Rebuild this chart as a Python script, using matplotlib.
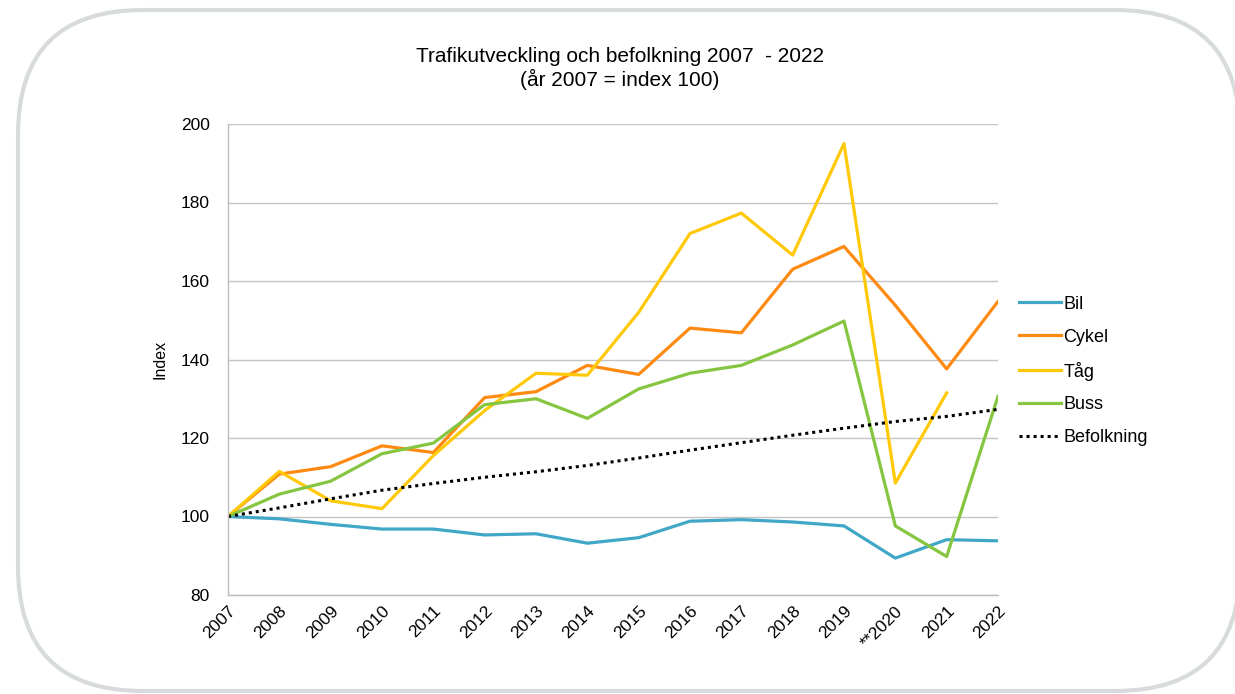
import numpy as np
import matplotlib.pyplot as plt
from matplotlib.patches import FancyBboxPatch

plt.rcParams['font.family'] = ['Liberation Sans', 'DejaVu Sans']

years = ['2007', '2008', '2009', '2010', '2011', '2012', '2013', '2014',
         '2015', '2016', '2017', '2018', '2019', '**2020', '2021', '2022']

bil = [100, 99.4, 98.0, 96.8, 96.8, 95.3, 95.6, 93.2,
       94.6, 98.8, 99.2, 98.6, 97.6, 89.4, 94.1, 93.8]
cykel = [100, 110.8, 112.7, 118.0, 116.3, 130.3, 131.8, 138.5,
         136.2, 148.0, 146.8, 163.0, 168.8, 153.8, 137.6, 154.8]
tag = [100, 111.5, 104.0, 102.0, 115.5, 127.0, 136.5, 136.0,
       152.0, 172.1, 177.3, 166.6, 195.0, 108.5, 131.5, np.nan]
buss = [100, 105.7, 109.0, 116.0, 118.7, 128.5, 130.0, 125.0,
        132.5, 136.5, 138.5, 143.7, 149.8, 97.6, 89.8, 130.6]
befolkning = [100, 102.2, 104.5, 106.7, 108.4, 110.0, 111.4, 113.0,
              114.9, 116.9, 118.8, 120.7, 122.5, 124.2, 125.5, 127.3]

series = [
    ('Bil', bil, '#41a7c7'),
    ('Cykel', cykel, '#ff8a12'),
    ('Tåg', tag, '#ffc90a'),
    ('Buss', buss, '#86c540'),
]

W, H = 1235, 694
fig = plt.figure(figsize=(W / 100, H / 100), dpi=100)

# rounded frame around the whole chart
bg = fig.add_axes([0, 0, 1, 1])
bg.set_xlim(0, W)
bg.set_ylim(H, 0)
bg.axis('off')
bg.add_patch(FancyBboxPatch((18, 10), 1222, 681,
                            boxstyle='round,pad=0,rounding_size=125',
                            fc='white', ec='#d8dbdb', lw=3.0))

ax = fig.add_axes([228 / W, 1 - 595 / H, 770 / W, 471 / H])
ax.patch.set_alpha(0)
x = np.arange(len(years))

for name, vals, color in series:
    ax.plot(x, vals, color=color, lw=2.3, label=name)
ax.plot(x, befolkning, color='black', lw=2.2, ls=(0, (1, 1.3)),
        label='Befolkning')

ax.set_xlim(0, len(years) - 1)
ax.set_ylim(80, 200)
ax.set_yticks(range(80, 201, 20))
ax.set_xticks(x)
ax.set_xticklabels(years, rotation=45, ha='right', rotation_mode='anchor')
ax.tick_params(length=0, labelsize=12.5)
ax.tick_params(axis='y', pad=13)
ax.tick_params(axis='x', pad=6)
ax.grid(axis='y', color='#c4c4c4', lw=1.0)
ax.set_axisbelow(True)
for s in ['top', 'right']:
    ax.spines[s].set_visible(False)
for s in ['left', 'bottom']:
    ax.spines[s].set_color('#bdbdbd')
    ax.spines[s].set_linewidth(1.0)
ax.set_ylabel('Index', fontsize=11.5, labelpad=10)

fig.text(620 / W, 1 - 56 / H, 'Trafikutveckling och befolkning 2007  - 2022',
         ha='center', va='center', fontsize=15)
fig.text(620 / W, 1 - 79 / H, '(år 2007 = index 100)',
         ha='center', va='center', fontsize=15)

handles, labels = ax.get_legend_handles_labels()
fig.legend(handles, labels, loc='center left',
           bbox_to_anchor=(1019 / W, 1 - 371 / H), frameon=False,
           fontsize=13, handlelength=2.3, handletextpad=0.15,
           labelspacing=0.88, borderpad=0, borderaxespad=0)

fig.savefig('out.png', dpi=100)
